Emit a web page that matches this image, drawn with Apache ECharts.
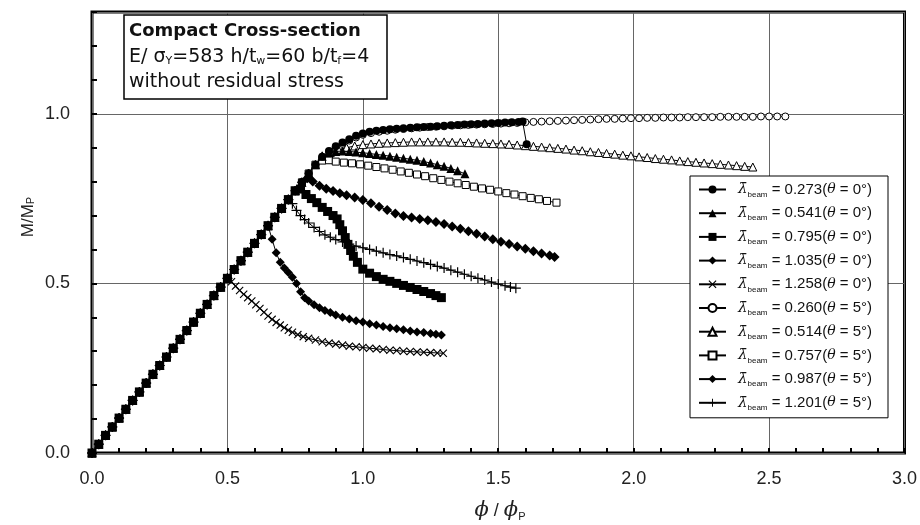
<!DOCTYPE html>
<html>
<head>
<meta charset="utf-8">
<script src="https://cdn.jsdelivr.net/npm/echarts/dist/echarts.min.js"></script>
<style>
html,body{margin:0;padding:0;background:#fff;}
#chart{width:920px;height:525px;}
</style>
</head>
<body>
<div id="chart"></div>
<script>
// ---------- DATA ----------
const xTicks = [0, 0.5, 1.0, 1.5, 2.0, 2.5, 3.0];
const yTicks = [0, 0.5, 1.0];

// shared elastic branch (phi/phiP, M/MP)
const elasticPhi = [0,0.025,0.05,0.075,0.1,0.125,0.15,0.175,0.2,0.225,0.25,0.275,0.3,0.325,0.35,0.375,0.4,0.425,0.45,0.475,0.5,0.525,0.55,0.575,0.6,0.625,0.65,0.675,0.7,0.725,0.75,0.775,0.8,0.825,0.85];
const elasticM   = [0,0.026,0.052,0.077,0.103,0.129,0.155,0.18,0.206,0.232,0.258,0.283,0.309,0.335,0.361,0.386,0.412,0.438,0.464,0.489,0.515,0.541,0.567,0.592,0.618,0.644,0.67,0.695,0.721,0.747,0.773,0.798,0.824,0.85,0.873];

const lambdas = ['0.273','0.541','0.795','1.035','1.258','0.260','0.514','0.757','0.987','1.201'];
const thetas  = ['0','0','0','0','0','5','5','5','5','5'];
// last phi value of the elastic branch used by each curve
const elasticEnd = [0.85, 0.825, 0.75, 0.65, 0.5, 0.85, 0.825, 0.825, 0.775, 0.725];

// post-buckling branches [phi/phiP, M/MP]
const post0273 = [[0.875,0.89],[0.9,0.904],[0.925,0.915],[0.95,0.925],[0.975,0.935],[1.0,0.942],[1.025,0.947],[1.05,0.95],[1.075,0.952],[1.1,0.954],[1.125,0.956],[1.15,0.957],[1.175,0.959],[1.2,0.96],[1.225,0.961],[1.25,0.962],[1.275,0.963],[1.3,0.965],[1.325,0.966],[1.35,0.967],[1.375,0.968],[1.4,0.969],[1.425,0.97],[1.45,0.971],[1.475,0.972],[1.5,0.973],[1.525,0.974],[1.55,0.975],[1.575,0.976],[1.59,0.977],[1.605,0.91]];
const post0541 = [[0.85,0.875],[0.875,0.884],[0.9,0.889],[0.925,0.89],[0.95,0.889],[0.975,0.887],[1.0,0.885],[1.025,0.883],[1.05,0.88],[1.075,0.878],[1.1,0.875],[1.125,0.872],[1.15,0.869],[1.175,0.866],[1.2,0.863],[1.225,0.859],[1.25,0.855],[1.275,0.85],[1.3,0.845],[1.325,0.839],[1.35,0.832],[1.377,0.823]];
const post0795 = [[0.77,0.778],[0.79,0.762],[0.81,0.75],[0.83,0.738],[0.85,0.724],[0.87,0.712],[0.89,0.7],[0.905,0.69],[0.915,0.673],[0.925,0.655],[0.935,0.635],[0.945,0.615],[0.955,0.597],[0.965,0.58],[0.98,0.562],[1.0,0.542],[1.025,0.53],[1.05,0.52],[1.075,0.512],[1.1,0.506],[1.125,0.5],[1.15,0.494],[1.175,0.488],[1.2,0.482],[1.225,0.476],[1.25,0.47],[1.27,0.464],[1.29,0.458]];
const post1035 = [[0.665,0.63],[0.68,0.59],[0.695,0.562],[0.71,0.545],[0.725,0.532],[0.74,0.518],[0.755,0.5],[0.77,0.475],[0.785,0.458],[0.8,0.448],[0.82,0.437],[0.84,0.428],[0.86,0.42],[0.88,0.414],[0.9,0.407],[0.925,0.4],[0.95,0.395],[0.975,0.39],[1.0,0.386],[1.025,0.381],[1.05,0.377],[1.075,0.373],[1.1,0.369],[1.125,0.366],[1.15,0.363],[1.175,0.36],[1.2,0.357],[1.225,0.355],[1.25,0.352],[1.27,0.35],[1.29,0.348]];
const post1258 = [[0.515,0.505],[0.53,0.492],[0.545,0.479],[0.56,0.468],[0.575,0.458],[0.59,0.448],[0.605,0.437],[0.62,0.426],[0.635,0.415],[0.65,0.404],[0.665,0.394],[0.68,0.385],[0.695,0.377],[0.71,0.369],[0.725,0.362],[0.74,0.356],[0.76,0.349],[0.78,0.343],[0.8,0.338],[0.825,0.333],[0.85,0.328],[0.875,0.324],[0.9,0.321],[0.925,0.318],[0.95,0.315],[0.975,0.313],[1.0,0.311],[1.025,0.309],[1.05,0.307],[1.075,0.305],[1.1,0.303],[1.125,0.302],[1.15,0.3],[1.175,0.299],[1.2,0.298],[1.225,0.297],[1.25,0.296],[1.275,0.295],[1.297,0.294]];
const post0260 = [[0.875,0.888],[0.9,0.9],[0.925,0.911],[0.95,0.921],[0.975,0.93],[1.0,0.938],[1.03,0.943],[1.06,0.947],[1.09,0.95],[1.12,0.953],[1.15,0.955],[1.18,0.957],[1.21,0.959],[1.24,0.961],[1.27,0.962],[1.3,0.963],[1.33,0.965],[1.36,0.966],[1.39,0.967],[1.42,0.968],[1.45,0.969],[1.48,0.97],[1.51,0.971],[1.54,0.972],[1.57,0.973],[1.6,0.975],[1.63,0.976],[1.66,0.977],[1.69,0.978],[1.72,0.979],[1.75,0.98],[1.78,0.981],[1.81,0.982],[1.84,0.983],[1.87,0.984],[1.9,0.985],[1.93,0.985],[1.96,0.986],[1.99,0.987],[2.02,0.987],[2.05,0.988],[2.08,0.988],[2.11,0.989],[2.14,0.989],[2.17,0.989],[2.2,0.99],[2.23,0.99],[2.26,0.99],[2.29,0.99],[2.32,0.991],[2.35,0.991],[2.38,0.991],[2.41,0.991],[2.44,0.991],[2.47,0.992],[2.5,0.992],[2.53,0.992],[2.56,0.992]];
const post0514 = [[0.85,0.876],[0.88,0.886],[0.91,0.894],[0.94,0.9],[0.97,0.905],[1.0,0.909],[1.03,0.911],[1.06,0.913],[1.09,0.914],[1.12,0.915],[1.15,0.916],[1.18,0.917],[1.21,0.917],[1.24,0.917],[1.27,0.917],[1.3,0.917],[1.33,0.916],[1.36,0.916],[1.39,0.915],[1.42,0.914],[1.45,0.913],[1.48,0.912],[1.51,0.911],[1.54,0.91],[1.57,0.908],[1.6,0.906],[1.63,0.904],[1.66,0.902],[1.69,0.9],[1.72,0.898],[1.75,0.896],[1.78,0.893],[1.81,0.891],[1.84,0.888],[1.87,0.886],[1.9,0.883],[1.93,0.881],[1.96,0.878],[1.99,0.876],[2.02,0.873],[2.05,0.871],[2.08,0.868],[2.11,0.866],[2.14,0.864],[2.17,0.861],[2.2,0.859],[2.23,0.857],[2.26,0.855],[2.29,0.853],[2.32,0.851],[2.35,0.849],[2.38,0.847],[2.41,0.845],[2.44,0.843]];
const post0757 = [[0.85,0.862],[0.875,0.863],[0.9,0.859],[0.93,0.856],[0.96,0.854],[0.99,0.851],[1.02,0.847],[1.05,0.843],[1.08,0.839],[1.11,0.835],[1.14,0.83],[1.17,0.826],[1.2,0.821],[1.23,0.816],[1.26,0.81],[1.29,0.805],[1.32,0.8],[1.35,0.795],[1.38,0.79],[1.41,0.785],[1.44,0.78],[1.47,0.776],[1.5,0.771],[1.53,0.766],[1.56,0.762],[1.59,0.757],[1.62,0.752],[1.65,0.748],[1.68,0.743],[1.715,0.738]];
const post0987 = [[0.795,0.81],[0.815,0.8],[0.84,0.788],[0.865,0.779],[0.89,0.772],[0.915,0.766],[0.94,0.76],[0.97,0.753],[1.0,0.746],[1.03,0.736],[1.06,0.726],[1.09,0.716],[1.12,0.706],[1.15,0.699],[1.18,0.694],[1.21,0.69],[1.24,0.686],[1.27,0.681],[1.3,0.675],[1.33,0.668],[1.36,0.661],[1.39,0.654],[1.42,0.646],[1.45,0.638],[1.48,0.63],[1.51,0.623],[1.54,0.616],[1.57,0.609],[1.6,0.602],[1.63,0.595],[1.66,0.588],[1.69,0.582],[1.708,0.578]];
const post1201 = [[0.74,0.735],[0.755,0.715],[0.77,0.7],[0.785,0.688],[0.8,0.678],[0.82,0.665],[0.84,0.653],[0.86,0.643],[0.88,0.636],[0.9,0.629],[0.925,0.622],[0.95,0.616],[0.975,0.61],[1.0,0.605],[1.025,0.6],[1.05,0.595],[1.075,0.59],[1.1,0.585],[1.125,0.581],[1.15,0.576],[1.175,0.571],[1.2,0.566],[1.225,0.561],[1.25,0.556],[1.275,0.55],[1.3,0.545],[1.325,0.539],[1.35,0.533],[1.375,0.527],[1.4,0.521],[1.425,0.515],[1.45,0.51],[1.475,0.504],[1.5,0.498],[1.525,0.493],[1.545,0.489],[1.565,0.486]];

const postBranches = [post0273, post0541, post0795, post1035, post1258, post0260, post0514, post0757, post0987, post1201];

// ---------- STYLES ----------
const plusPath = 'path://M4.4,0 H5.6 V4.4 H10 V5.6 H5.6 V10 H4.4 V5.6 H0 V4.4 H4.4 Z';
const crossPath = 'path://M1,0 L5,4 L9,0 L10,1 L6,5 L10,9 L9,10 L5,6 L1,10 L0,9 L4,5 L0,1 Z';
const styles = [
  {symbol:'circle',   size:8,  open:false, z:4},
  {symbol:'triangle', size:9,  open:false, z:3},
  {symbol:'rect',     size:9,  open:false, z:5},
  {symbol:'diamond',  size:9,  open:false, z:3},
  {symbol:crossPath,  size:8,  open:false, z:3},
  {symbol:'circle',   size:7,  open:true,  z:2},
  {symbol:'triangle', size:8,  open:true,  z:2},
  {symbol:'rect',     size:7,  open:true,  z:2},
  {symbol:'diamond',  size:10, open:false, z:3},
  {symbol:plusPath,   size:10, open:false, z:3}
];

const names = lambdas.map((l, i) => l + '(θ=' + thetas[i] + '°)');

const series = lambdas.map((l, i) => {
  const data = [];
  for (let k = 0; k < elasticPhi.length; k++) {
    if (elasticPhi[k] <= elasticEnd[i] + 1e-9) data.push([elasticPhi[k], elasticM[k]]);
  }
  postBranches[i].forEach(p => data.push(p));
  const st = styles[i];
  return {
    name: names[i],
    type: 'line',
    data: data,
    symbol: st.symbol,
    symbolSize: st.size,
    z: st.z,
    showSymbol: true,
    lineStyle: {color: '#000', width: 1},
    itemStyle: st.open ? {color: '#fff', borderColor: '#000', borderWidth: 1} : {color: '#000'},
    emphasis: {disabled: true},
    animation: false
  };
});

const chart = echarts.init(document.getElementById('chart'), null, {renderer: 'canvas'});
const option = {
  backgroundColor: '#fff',
  animation: false,
  grid: {left: 92, right: 13, top: 12, bottom: 72, show: true, borderColor: '#000', borderWidth: 3, backgroundColor: 'transparent'},
  xAxis: {
    type: 'value', min: xTicks[0], max: xTicks[xTicks.length - 1], interval: 0.5,
    axisLine: {show: false},
    axisTick: {show: true, inside: true, length: 5, lineStyle: {color: '#000', width: 2}},
    minorTick: {show: true, splitNumber: 5, length: 5, lineStyle: {color: '#000', width: 2}},
    splitLine: {show: true, lineStyle: {color: '#666', width: 1}},
    axisLabel: {fontSize: 18, color: '#222', margin: 17, fontFamily: 'Liberation Sans', formatter: v => v.toFixed(1)}
  },
  yAxis: [
    {
      type: 'value', min: yTicks[0], max: 1.3, interval: 0.5,
      axisLine: {show: false},
      axisTick: {show: false},
      splitLine: {show: true, lineStyle: {color: '#666', width: 1}},
      axisLabel: {fontSize: 18, color: '#222', margin: 22, fontFamily: 'Liberation Sans', showMaxLabel: false,
        formatter: v => (yTicks.indexOf(Math.round(v * 10) / 10) >= 0 ? v.toFixed(1) : '')}
    },
    {
      type: 'value', min: 0, max: 1.3, interval: 0.1, position: 'left',
      axisLine: {show: false},
      axisLabel: {show: false},
      splitLine: {show: false},
      axisTick: {show: true, inside: true, length: 5, lineStyle: {color: '#000', width: 2}}
    }
  ],
  legend: {
    left: 690, top: 176, orient: 'vertical',
    itemWidth: 27, itemHeight: 10, itemGap: 7.2,
    padding: [6, 16, 6, 8],
    borderColor: '#000', borderWidth: 1, backgroundColor: '#fff',
    selectedMode: false,
    data: names,
    formatter: function (name) {
      const i = names.indexOf(name);
      return '{sp|}{lam|λ\u0304}{sub|beam}{txt| = ' + lambdas[i] + '(}{th|θ}{txt| = ' + thetas[i] + '°)}';
    },
    textStyle: {
      fontFamily: 'Liberation Sans', fontSize: 15, color: '#111',
      rich: {
        sp: {width: 7, lineHeight: 18},
        lam: {fontFamily: 'DejaVu Serif', fontStyle: 'italic', fontSize: 15, lineHeight: 18, color: '#111'},
        sub: {fontFamily: 'Liberation Sans', fontSize: 8, lineHeight: 10, verticalAlign: 'bottom', color: '#111'},
        txt: {fontFamily: 'Liberation Sans', fontSize: 15, lineHeight: 18, color: '#111'},
        th: {fontFamily: 'DejaVu Serif', fontStyle: 'italic', fontSize: 14, lineHeight: 18, color: '#111'}
      }
    }
  },
  graphic: [
    {
      type: 'rect', z: 100, shape: {x: 124, y: 15, width: 263, height: 84},
      style: {fill: '#fff', stroke: '#000', lineWidth: 1.5}
    },
    {
      type: 'text', z: 101, x: 129, y: 31,
      style: {text: 'Compact Cross-section', fontFamily: 'DejaVu Sans', fontWeight: 'bold', fontSize: 18, fill: '#111', verticalAlign: 'middle'}
    },
    {
      type: 'text', z: 101, x: 129, y: 57,
      style: {
        text: 'E/ σ{s|Y}=583 h/t{s|w}=60 b/t{s|f}=4',
        fontFamily: 'DejaVu Sans', fontSize: 19, fill: '#111', verticalAlign: 'middle',
        rich: {s: {fontFamily: 'DejaVu Sans', fontSize: 11, lineHeight: 11, verticalAlign: 'bottom', fill: '#111'}}
      }
    },
    {
      type: 'text', z: 101, x: 129, y: 82,
      style: {text: 'without residual stress', fontFamily: 'DejaVu Sans', fontSize: 19, fill: '#111', verticalAlign: 'middle'}
    },
    {
      type: 'text', z: 101, x: 28, y: 217, rotation: Math.PI / 2,
      style: {
        text: 'M/M{s|P}', fontFamily: 'Liberation Sans', fontSize: 17, fill: '#222', align: 'center', verticalAlign: 'middle',
        rich: {s: {fontFamily: 'Liberation Sans', fontSize: 11, lineHeight: 10, verticalAlign: 'bottom', fill: '#222'}}
      }
    },
    {
      type: 'text', z: 101, x: 500, y: 511,
      style: {
        text: '{p|ϕ}{n| / }{p|ϕ}{s|P}', align: 'center', verticalAlign: 'middle', fill: '#222',
        rich: {
          p: {fontFamily: 'DejaVu Serif', fontStyle: 'italic', fontSize: 21, lineHeight: 22, fill: '#222'},
          n: {fontFamily: 'Liberation Sans', fontSize: 18, lineHeight: 22, fill: '#222'},
          s: {fontFamily: 'Liberation Sans', fontSize: 11, lineHeight: 10, verticalAlign: 'bottom', fill: '#222'}
        }
      }
    }
  ],
  series: series
};
chart.setOption(option);
</script>
</body>
</html>
